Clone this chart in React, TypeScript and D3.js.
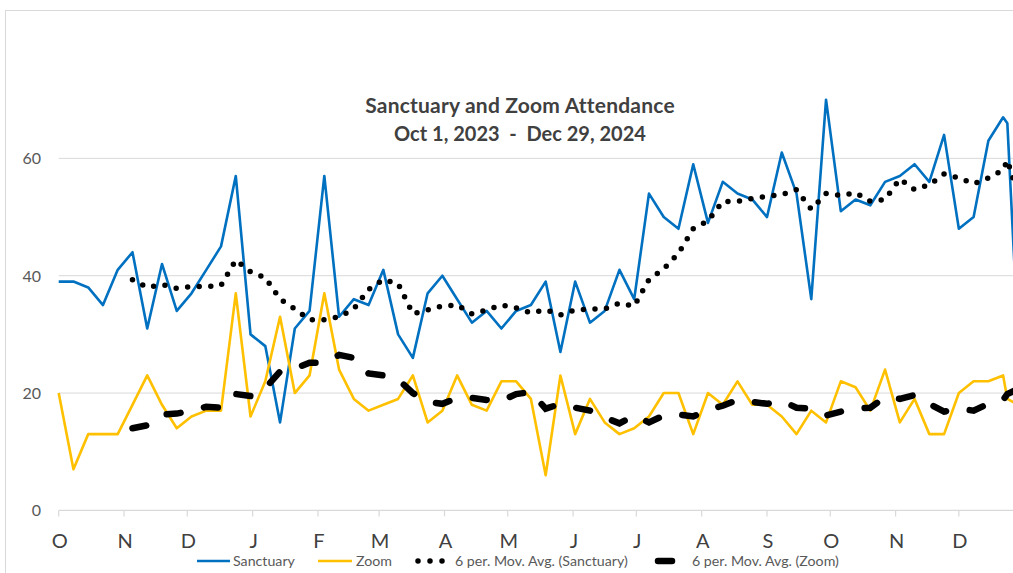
import React, { useEffect, useRef } from 'react';
import * as d3 from 'd3';

// service dates (Sundays, plus Christmas Eve 2024)
const serviceDates = [
  '2023-10-01', '2023-10-08', '2023-10-15', '2023-10-22', '2023-10-29',
  '2023-11-05', '2023-11-12', '2023-11-19', '2023-11-26',
  '2023-12-03', '2023-12-10', '2023-12-17', '2023-12-24', '2023-12-31',
  '2024-01-07', '2024-01-14', '2024-01-21', '2024-01-28',
  '2024-02-04', '2024-02-11', '2024-02-18', '2024-02-25',
  '2024-03-03', '2024-03-10', '2024-03-17', '2024-03-24', '2024-03-31',
  '2024-04-07', '2024-04-14', '2024-04-21', '2024-04-28',
  '2024-05-05', '2024-05-12', '2024-05-19', '2024-05-26',
  '2024-06-02', '2024-06-09', '2024-06-16', '2024-06-23', '2024-06-30',
  '2024-07-07', '2024-07-14', '2024-07-21', '2024-07-28',
  '2024-08-04', '2024-08-11', '2024-08-18', '2024-08-25',
  '2024-09-01', '2024-09-08', '2024-09-15', '2024-09-22', '2024-09-29',
  '2024-10-06', '2024-10-13', '2024-10-20', '2024-10-27',
  '2024-11-03', '2024-11-10', '2024-11-17', '2024-11-24',
  '2024-12-01', '2024-12-08', '2024-12-15', '2024-12-22', '2024-12-24', '2024-12-29',
];

const sanctuary = [
  39, 39, 38, 35, 41, 44, 31, 42, 34, 37, 41, 45, 57, 30,
  28, 15, 31, 34,
  57, 33, 36, 35,
  41, 30, 26, 37, 40,
  36, 32, 34, 31,
  34, 35, 39, 27,
  39, 32, 34, 41, 36,
  54, 50, 48, 59,
  49, 56, 54, 53,
  50, 61, 54, 36, 70,
  51, 53, 52, 56,
  57, 59, 56, 64,
  48, 50, 63, 67, 66, 30,
];

const zoom = [
  20, 7, 13, 13, 13, 18, 23, 18, 14, 16, 17, 17, 37, 16,
  22, 33, 20, 23,
  37, 24, 19, 17,
  18, 19, 23, 15, 17,
  23, 18, 17, 22,
  22, 19, 6, 23,
  13, 19, 15, 13, 14,
  16, 20, 20, 13,
  20, 18, 22, 18,
  18, 16, 13, 17, 15,
  22, 21, 17, 24,
  15, 19, 13, 13,
  20, 22, 22, 23, 19, 18,
];

const yTicks = [0, 20, 40, 60];
const monthLetters = ['J', 'F', 'M', 'A', 'M', 'J', 'J', 'A', 'S', 'O', 'N', 'D'];
const titleLines = ['Sanctuary and Zoom Attendance', 'Oct 1, 2023  -  Dec 29, 2024'];
const maPeriod = 6;

const FONT = 'Lato, "Open Sans", sans-serif';
const BLUE = '#0070c0';
const GOLD = '#ffc000';
const GRID = '#d9d9d9';

type Pt = { date: Date; value: number };

const movingAvg = (pts: Pt[], n: number): Pt[] =>
  pts.slice(n - 1).map((p, i) => ({
    date: p.date,
    value: d3.mean(pts.slice(i, i + n), d => d.value) as number,
  }));

const App = () => {
  const svgRef = useRef<SVGSVGElement>(null);

  useEffect(() => {
    const W = 1013;
    const H = 573;
    const svg = d3.select(svgRef.current);
    svg.selectAll('*').remove();

    const parse = d3.utcParse('%Y-%m-%d');
    const dates = serviceDates.map(s => parse(s) as Date);
    const sancData: Pt[] = dates.map((d, i) => ({ date: d, value: sanctuary[i] }));
    const zoomData: Pt[] = dates.map((d, i) => ({ date: d, value: zoom[i] }));

    const x = d3.scaleUtc()
      .domain([new Date(Date.UTC(2023, 9, 1)), new Date(Date.UTC(2025, 0, 1))])
      .range([58.7, 1024.2]);
    const y = d3.scaleLinear().domain([0, 70]).range([510.4, 99.7]);

    // chart border
    svg.append('rect')
      .attr('x', 5.5).attr('y', 10.5)
      .attr('width', W + 20).attr('height', H + 20)
      .attr('fill', 'white').attr('stroke', GRID);

    // gridlines
    svg.append('g')
      .selectAll('line')
      .data(yTicks.filter(t => t > 0))
      .join('line')
      .attr('x1', x.range()[0]).attr('x2', W + 10)
      .attr('y1', d => y(d)).attr('y2', d => y(d))
      .attr('stroke', GRID).attr('stroke-width', 1);

    // y labels
    svg.append('g')
      .selectAll('text')
      .data(yTicks)
      .join('text')
      .attr('x', 41).attr('y', d => y(d) + 6)
      .attr('text-anchor', 'end')
      .style('font-family', FONT).style('font-size', '16px')
      .attr('fill', '#595959')
      .text(d => d);

    // x axis
    const months = d3.utcMonth.range(x.domain()[0], x.domain()[1]);
    svg.append('line')
      .attr('x1', x.range()[0]).attr('x2', W + 10)
      .attr('y1', y(0)).attr('y2', y(0))
      .attr('stroke', GRID).attr('stroke-width', 1.2);
    svg.append('g')
      .selectAll('line')
      .data(months)
      .join('line')
      .attr('x1', d => x(d)).attr('x2', d => x(d))
      .attr('y1', y(0)).attr('y2', y(0) + 6)
      .attr('stroke', GRID).attr('stroke-width', 1.2);
    svg.append('g')
      .selectAll('text')
      .data(months)
      .join('text')
      .attr('x', d => x(d) + 1).attr('y', 548)
      .attr('text-anchor', 'middle')
      .style('font-family', FONT).style('font-size', '20px')
      .attr('fill', '#404040')
      .text(d => monthLetters[d.getUTCMonth()]);

    const line = d3.line<Pt>().x(d => x(d.date)).y(d => y(d.value));

    svg.append('path').datum(sancData)
      .attr('d', line).attr('fill', 'none')
      .attr('stroke', BLUE).attr('stroke-width', 2.6)
      .attr('stroke-linejoin', 'round');
    svg.append('path').datum(zoomData)
      .attr('d', line).attr('fill', 'none')
      .attr('stroke', GOLD).attr('stroke-width', 2.6)
      .attr('stroke-linejoin', 'round');

    // moving averages
    svg.append('path').datum(movingAvg(sancData, maPeriod))
      .attr('d', line).attr('fill', 'none')
      .attr('stroke', '#000').attr('stroke-width', 5.5)
      .attr('stroke-linecap', 'round')
      .attr('stroke-dasharray', '0 11.6');
    svg.append('path').datum(movingAvg(zoomData, maPeriod))
      .attr('d', line).attr('fill', 'none')
      .attr('stroke', '#000').attr('stroke-width', 6.5)
      .attr('stroke-linecap', 'round')
      .attr('stroke-dasharray', '14 24');

    // title
    svg.append('g')
      .selectAll('text')
      .data(titleLines)
      .join('text')
      .attr('x', 520).attr('y', (d, i) => 113 + i * 28)
      .attr('text-anchor', 'middle')
      .style('font-family', FONT)
      .style('font-size', (d, i) => (i === 0 ? '21px' : '20px'))
      .style('letter-spacing', (d, i) => (i === 0 ? '0.2px' : '0px'))
      .style('font-weight', 'bold')
      .attr('fill', '#404040')
      .style('white-space', 'pre')
      .text(d => d);

    // legend
    const ly = 561;
    const leg = svg.append('g')
      .style('font-family', FONT).style('font-size', '14.2px');
    leg.append('line').attr('x1', 197).attr('x2', 230).attr('y1', ly).attr('y2', ly)
      .attr('stroke', BLUE).attr('stroke-width', 2.6);
    leg.append('text').attr('x', 233).attr('y', ly + 5).attr('fill', '#595959').text('Sanctuary');
    leg.append('line').attr('x1', 318).attr('x2', 352).attr('y1', ly).attr('y2', ly)
      .attr('stroke', GOLD).attr('stroke-width', 2.6);
    leg.append('text').attr('x', 356).attr('y', ly + 5).attr('fill', '#595959').text('Zoom');
    leg.append('line').attr('x1', 418).attr('x2', 443).attr('y1', ly).attr('y2', ly)
      .attr('stroke', '#000').attr('stroke-width', 5.5)
      .attr('stroke-linecap', 'round').attr('stroke-dasharray', '0 12');
    leg.append('text').attr('x', 455).attr('y', ly + 5).attr('fill', '#595959')
      .text('6 per. Mov. Avg. (Sanctuary)');
    leg.append('line').attr('x1', 658).attr('x2', 672).attr('y1', ly).attr('y2', ly)
      .attr('stroke', '#000').attr('stroke-width', 6.5)
      .attr('stroke-linecap', 'round');
    leg.append('text').attr('x', 692).attr('y', ly + 5).attr('fill', '#595959')
      .text('6 per. Mov. Avg. (Zoom)');
  }, []);

  return (
    <svg
      ref={svgRef}
      width={1013}
      height={573}
      style={{ position: 'absolute', left: 0, top: 0, overflow: 'hidden', background: 'white' }}
    />
  );
};

export default App;
